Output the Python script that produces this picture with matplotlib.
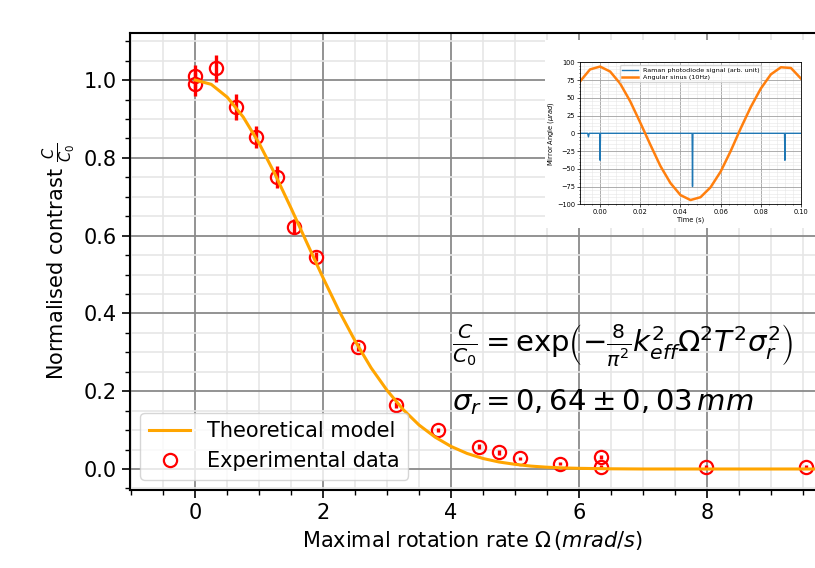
import matplotlib
matplotlib.use("Agg")
import matplotlib.pyplot as plt
from matplotlib.patches import Rectangle
from matplotlib.ticker import MultipleLocator, AutoMinorLocator

# Experimental points (rotation rate in mrad/s, normalised contrast, error)
rate = [0.0, 0.0, 0.33, 0.64, 0.95, 1.28, 1.54, 1.89, 2.55, 3.14, 3.80,
        4.43, 4.75, 5.07, 5.71, 6.35, 6.35, 7.98, 9.55]
contrast = [1.01, 0.99, 1.03, 0.931, 0.854, 0.751, 0.623, 0.546, 0.314, 0.165,
            0.100, 0.057, 0.043, 0.027, 0.014, 0.030, 0.006, 0.006, 0.006]
contrast_err = [0.03, 0.03, 0.034, 0.033, 0.029, 0.028, 0.02, 0.012, 0.01, 0.008,
                0.006, 0.006, 0.006, 0.005, 0.005, 0.005, 0.005, 0.004, 0.004]

# Theoretical model curve
model_rate = [0.0, 0.25, 0.5, 0.75, 1.0, 1.25, 1.5, 1.75, 2.0, 2.25, 2.5, 2.75,
              3.0, 3.25, 3.5, 3.75, 4.0, 4.25, 4.5, 4.75, 5.0, 5.25, 5.5, 5.75,
              6.0, 6.5, 7.0, 9.7]
model_contrast = [1.0, 0.989, 0.956, 0.905, 0.837, 0.757, 0.670, 0.580, 0.491,
                  0.406, 0.329, 0.260, 0.202, 0.153, 0.113, 0.082, 0.058, 0.040,
                  0.027, 0.018, 0.012, 0.0074, 0.0046, 0.0028, 0.0017, 0.0005,
                  0.0, 0.0]

# Inset: mirror angle and photodiode signal versus time
sinus_t = [-0.010, -0.005, 0.000, 0.005, 0.010, 0.015, 0.020, 0.025, 0.030,
           0.035, 0.040, 0.045, 0.050, 0.055, 0.060, 0.065, 0.070, 0.075,
           0.080, 0.085, 0.090, 0.095, 0.100]
sinus_angle = [73, 90, 94, 87, 70, 45, 15, -16, -46, -70, -87, -94, -90, -76,
               -54, -25, 7, 37, 63, 83, 93, 92, 77]
raman_t = [-0.010, -0.0062, -0.0058, -0.0054, -0.0002, 0.0, 0.0002, 0.0458,
           0.046, 0.0462, 0.0918, 0.092, 0.0922, 0.100]
raman_signal = [0, 0, -5, 0, 0, -38, 0, 0, -75, 0, 0, -38, 0, 0]

fig = plt.figure(figsize=(8.15, 5.68), dpi=100)
ax = fig.add_axes([130 / 815, 78 / 568, 685 / 815, 457 / 568])

ax.errorbar(rate, contrast, yerr=contrast_err, fmt='none', ecolor='red',
            elinewidth=2.4, zorder=3)
ax.plot(model_rate, model_contrast, color='orange', lw=2.2, zorder=4,
        label='Theoretical model')
ax.plot(rate, contrast, 'o', ms=9.5, mfc='none', mec='red', mew=1.6,
        zorder=3, label='Experimental data')

ax.set_xlim(-1.02, 9.69)
ax.set_ylim(-0.054, 1.121)
ax.xaxis.set_major_locator(MultipleLocator(2))
ax.xaxis.set_minor_locator(MultipleLocator(0.5))
ax.yaxis.set_major_locator(MultipleLocator(0.2))
ax.yaxis.set_minor_locator(MultipleLocator(0.05))
ax.grid(which='major', color='#8a8a8a', lw=1.3)
ax.grid(which='minor', color='#e6e6e6', lw=1.2)
ax.set_axisbelow(True)
ax.spines['right'].set_visible(False)
for s in ['left', 'bottom', 'top']:
    ax.spines[s].set_linewidth(1.5)
ax.tick_params(which='major', labelsize=15, length=6, width=1.2)
ax.tick_params(which='minor', length=3.5, width=1.0)

ax.set_xlabel(r'Maximal rotation rate $\Omega\,(mrad/s)$', fontsize=15)
ax.set_ylabel(r'Normalised contrast $\frac{C}{C_0}$', fontsize=15)
ax.legend(loc='lower left', fontsize=15)

ax.text(4.02, 0.316,
        r'$\frac{C}{C_0} = \mathrm{exp}\left(-\frac{8}{\pi^2}k_{eff}^2\Omega^2T^2\sigma_r^2\right)$',
        fontsize=21, va='center', ha='left')
ax.text(4.02, 0.172, r'$\sigma_r = 0,64 \pm 0,03\,mm$',
        fontsize=21, va='center', ha='left')

# white box behind the inset
fig.add_artist(Rectangle((545 / 815, 1 - 228 / 568), 270 / 815, 188 / 568,
                         transform=fig.transFigure, facecolor='white',
                         edgecolor='none', zorder=5))

ins = fig.add_axes([580 / 815, 1 - 204.3 / 568, 221 / 815, 142 / 568])
ins.set_zorder(6)
ins.plot(raman_t, raman_signal, color='#1f77b4', lw=1.0,
         label='Raman photodiode signal (arb. unit)')
ins.plot(sinus_t, sinus_angle, color='#ff7f0e', lw=1.8,
         label='Angular sinus (10Hz)')
ins.set_xlim(-0.01, 0.10)
ins.set_ylim(-100, 100)
ins.xaxis.set_major_locator(MultipleLocator(0.02))
ins.yaxis.set_major_locator(MultipleLocator(25))
ins.xaxis.set_minor_locator(AutoMinorLocator(5))
ins.yaxis.set_minor_locator(AutoMinorLocator(5))
ins.grid(which='major', color='#a0a0a0', lw=0.6)
ins.grid(which='minor', color='#e6e6e6', lw=0.4)
ins.tick_params(which='major', labelsize=4.8, length=2, width=0.5, pad=1.5)
ins.tick_params(which='minor', length=1, width=0.4)
for s in ins.spines.values():
    s.set_linewidth(0.6)
ins.set_xlabel('Time (s)', fontsize=4.8, labelpad=1)
ins.set_ylabel(r'Mirror Angle ($\mu rad$)', fontsize=4.8, labelpad=1)
ins.legend(loc='upper center', fontsize=4.6, handlelength=2.5,
           borderpad=0.3, labelspacing=0.3)

fig.savefig('out.png', dpi=100)
